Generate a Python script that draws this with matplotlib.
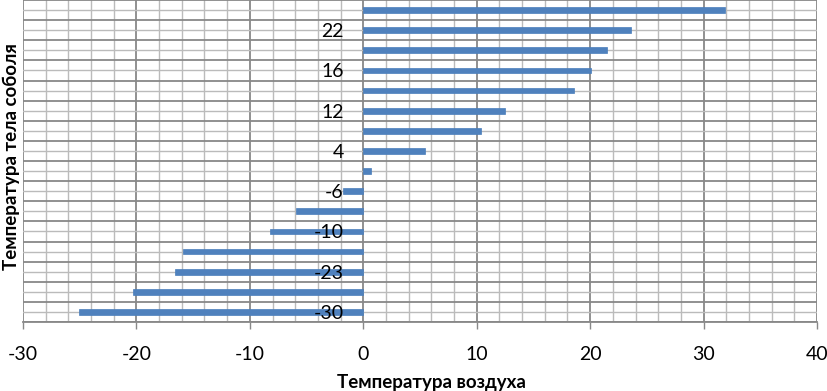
import matplotlib
matplotlib.use("Agg")
import matplotlib.pyplot as plt
from matplotlib.ticker import MultipleLocator, FixedLocator, NullFormatter
import numpy as np

# Data (bottom to top)
body_temp_labels = ['-30', '', '-23', '', '-10', '', '-6', '', '4', '', '12', '', '16', '', '22', '']
air_temp = [-25.1, -20.3, -16.6, -15.9, -8.2, -5.9, -1.8, 0.7,
            5.4, 10.4, 12.5, 18.6, 20.1, 21.5, 23.6, 31.9]
x_ticks = [-30, -20, -10, 0, 10, 20, 30, 40]

plt.rcParams['font.family'] = ['Lato', 'DejaVu Sans']

fig = plt.figure(figsize=(8.27, 3.91), dpi=100)
pos = [23/827, 1 - 322/391, (817-23)/827, 322/391 - 0.0]
ax = fig.add_axes(pos)

n = len(air_temp)
ypos = np.arange(n)
ax.barh(ypos, air_temp, height=0.28, color='#4F81BD', edgecolor='#4A7EBB',
        linewidth=0.5, zorder=2)

ax.set_xlim(-30, 40)
ax.set_ylim(-0.5, n - 0.5)

# grid
ax.xaxis.set_major_locator(FixedLocator(x_ticks))
ax.xaxis.set_minor_locator(MultipleLocator(2))
ax.yaxis.set_major_locator(FixedLocator(np.arange(-0.5, n, 1.0)))
ax.yaxis.set_minor_locator(FixedLocator(ypos))
ax.yaxis.set_major_formatter(NullFormatter())
ax.grid(which='major', axis='both', color='#888888', linewidth=1.3, zorder=0)
ax.grid(which='minor', axis='both', color='#bbbbbb', linewidth=1.0, zorder=0)
ax.set_axisbelow(True)
ax.tick_params(axis='y', which='both', length=0)
ax.tick_params(axis='x', which='major', length=5, width=1, color='#888888',
               labelsize=14, pad=12, labelcolor='black')
ax.tick_params(axis='x', which='minor', length=0)
ax.set_xticklabels([str(v) for v in x_ticks])

for s in ['top', 'right', 'left']:
    ax.spines[s].set_visible(False)
ax.spines['bottom'].set_color('#888888')
ax.spines['bottom'].set_linewidth(1.3)

ax.set_xlabel('Температура воздуха', fontsize=13.5, fontweight='bold', labelpad=8)
ax.xaxis.label.set_x((431 - 23) / 794)

# overlay axes for category labels placed at x=0, drawn above bars
ov = fig.add_axes(pos, frameon=False)
ov.set_xlim(-30, 40)
ov.set_ylim(-0.5, n - 0.5)
ov.patch.set_visible(False)
ov.set_zorder(ax.get_zorder() + 1)
ov.xaxis.set_visible(False)
for s in ['top', 'right', 'bottom']:
    ov.spines[s].set_visible(False)
ov.spines['left'].set_position(('data', 0))
ov.spines['left'].set_visible(False)
ov.yaxis.set_major_locator(FixedLocator(ypos))
ov.set_yticklabels(body_temp_labels)
ov.tick_params(axis='y', length=0, pad=14, labelsize=14)

fig.text(11/827, 1 - 157/391, 'Температура тела соболя', rotation=90,
         ha='center', va='center', fontsize=13.5, fontweight='bold')

fig.savefig('out.png', dpi=100)
